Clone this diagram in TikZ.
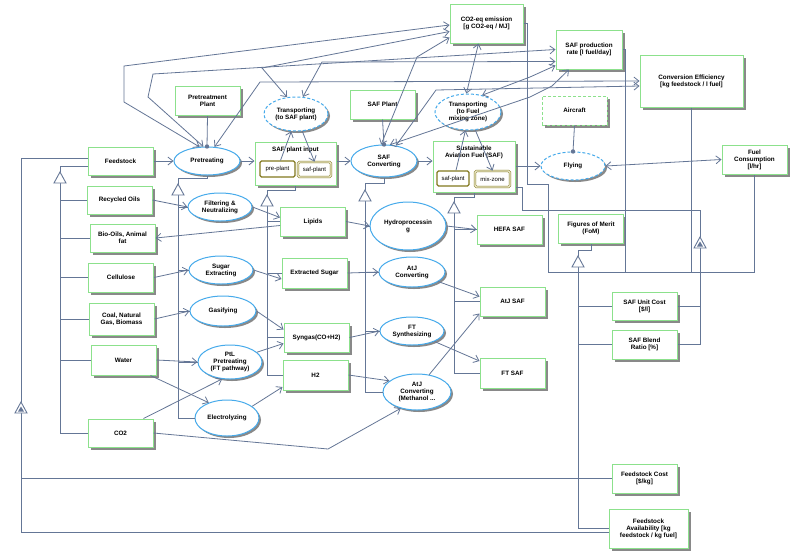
\documentclass[tikz,border=0pt]{standalone}
\usepackage{fontspec}
\setmainfont{Liberation Sans}
\usetikzlibrary{arrows.meta,shapes.geometric,shadows,calc}
\definecolor{boxg}{RGB}{140,225,140}
\definecolor{ellb}{RGB}{70,170,235}
\definecolor{lnc}{RGB}{100,118,150}
\definecolor{portc}{RGB}{130,120,30}
\definecolor{portf}{RGB}{240,238,210}
\definecolor{shad}{RGB}{125,125,125}
\begin{document}
\begin{tikzpicture}[x=1pt,y=-1pt,
  every node/.style={font=\fontsize{6.3}{7}\selectfont\bfseries, align=center, inner sep=0pt},
  blk/.style={draw=boxg, line width=1pt, fill=white, minimum width=65pt, minimum height=29pt,
    drop shadow={shadow xshift=2.5pt, shadow yshift=-2.5pt, fill=shad, opacity=0.9}},
  dblk/.style={blk, dash pattern=on 3pt off 2pt},
  act/.style={ellipse, draw=ellb, line width=1pt, fill=white,
    drop shadow={shadow xshift=2pt, shadow yshift=-2pt, fill=shad, opacity=0.9}},
  dact/.style={act, dash pattern=on 3pt off 2pt},
  port/.style={draw=portc, line width=1.2pt, fill=white, rounded corners=1.5pt,
    font=\fontsize{6}{7}\selectfont},
  dport/.style={port, line width=0.6pt, double=portf, double distance=1.2pt},
  conn/.style={draw=lnc, line width=0.8pt},
  arr/.style={conn, -{Straight Barb[length=5pt,width=8pt]}},
  barr/.style={conn, {Straight Barb[length=5pt,width=8pt]}-{Straight Barb[length=5pt,width=8pt]}},
  gentri/.pic={\draw[lnc, fill=white, line width=0.9pt] (0,0) -- (-6,11) -- (6,11) -- cycle;},
  gentrif/.pic={\draw[lnc, fill=white, line width=0.9pt] (0,0) -- (-6,11) -- (6,11) -- cycle;
     \fill[lnc] (0,4.5) -- (-3,9.5) -- (3,9.5) -- cycle;},
]
\useasboundingbox (0,0) rectangle (800,555);
\fill[white] (0,0) rectangle (800,555);

% ---------- blocks ----------
\node[blk] (pplant) at (207.5,101) {Pretreatment\\Plant};
\node[blk, minimum height=28pt] (feed) at (120.5,161) {Feedstock};
\node[blk, minimum height=28pt] (roil) at (119.5,200) {Recycled Oils};
\node[blk, minimum height=28pt] (bio) at (122.5,238) {Bio-Oils, Animal\\fat};
\node[blk] (cell) at (121,277.5) {Cellulose};
\node[blk, minimum height=32pt] (coal) at (121.5,319) {Coal, Natural\\Gas, Biomass};
\node[blk, minimum height=30pt] (water) at (123.5,360) {Water};
\node[blk, minimum height=28pt] (co2) at (120.5,433) {CO2};
\node[blk, minimum width=81pt, minimum height=43pt] (spi) at (295.5,163.5) {};
\node (spititle) at (295.5,150) {SAF plant input};
\node[blk] (lipids) at (313,221.5) {Lipids};
\node[blk, minimum height=30pt] (esugar) at (314.5,273) {Extracted Sugar};
\node[blk] (syngas) at (316.5,337.5) {Syngas(CO+H2)};
\node[blk, minimum height=30pt] (h2) at (315.5,375) {H2};
\node[blk] (safplant) at (382.5,104.5) {SAF Plant};
\node[blk, minimum width=82pt, minimum height=51pt] (saf) at (474,166.5) {};
\node (saftitle) at (474,152) {Sustainable\\Aviation Fuel (SAF)};
\node[blk] (hefa) at (509.5,229.5) {HEFA SAF};
\node[blk] (atjsaf) at (512.5,301.5) {AtJ SAF};
\node[blk, minimum height=30pt] (ftsaf) at (512.5,373) {FT SAF};
\node[blk, minimum width=73pt, minimum height=39pt] (co2eq) at (486.5,23.5) {CO2-eq emission\\{}[g CO2-eq / MJ]};
\node[blk, minimum width=66pt, minimum height=39pt] (safrate) at (589,49.5) {SAF production\\rate [l fuel/day]};
\node[blk, minimum width=103pt, minimum height=52pt] (conv) at (691.5,81) {Conversion Efficiency\\{}[kg feedstock / l fuel]};
\node[dblk] (aircraft) at (574.5,110.5) {Aircraft};
\node[blk] (fuelc) at (754.5,159.5) {Fuel\\Consumption\\{}[l/hr]};
\node[blk] (fom) at (591,228.5) {Figures of Merit\\(FoM)};
\node[blk, minimum height=28pt] (ucost) at (644.5,306) {SAF Unit Cost\\{}[\$/l]};
\node[blk] (blend) at (644.5,344.5) {SAF Blend\\Ratio [\%]};
\node[blk] (fcost) at (644.5,478.5) {Feedstock Cost\\{}[\$/kg]};
\node[blk, minimum width=79pt, minimum height=39pt] (favail) at (648.5,528.5) {Feedstock\\Availability [kg\\feedstock / kg fuel]};

% ---------- actions ----------
\node[act, minimum width=66pt, minimum height=28pt] (pretreat) at (207,161) {Pretreating};
\node[dact, minimum width=64pt, minimum height=34pt] (tsp) at (296,114) {Transporting\\(to SAF plant)};
\node[act, minimum width=66pt, minimum height=32pt] (safconv) at (384,161) {SAF\\Converting};
\node[dact, minimum width=66pt, minimum height=36pt] (tfm) at (468,112) {Transporting\\(to Fuel\\mixing zone)};
\node[dact, minimum width=64pt, minimum height=28pt] (flying) at (573,166) {Flying};
\node[act, minimum width=64pt, minimum height=28pt] (filt) at (220,207) {Filtering \&\\Neutralizing};
\node[act, minimum width=64pt, minimum height=28pt] (sugar) at (221,270) {Sugar\\Extracting};
\node[act, minimum width=66pt, minimum height=30pt] (gas) at (223,311) {Gasifying};
\node[act, minimum width=64pt, minimum height=34pt] (ptl) at (230,362) {PtL\\Pretreating\\(FT pathway)};
\node[act, minimum width=64pt, minimum height=36pt] (elec) at (227,418) {Electrolyzing};
\node[act, minimum width=76pt, minimum height=48pt] (hydro) at (408,226) {Hydroprocessin\\g};
\node[act, minimum width=66pt, minimum height=30pt] (atjc) at (412,272) {AtJ\\Converting};
\node[act, minimum width=64pt, minimum height=28pt] (fts) at (412,331) {FT\\Synthesizing};
\node[act, minimum width=68pt, minimum height=36pt] (meth) at (417,392) {AtJ\\Converting\\(Methanol ...};

% ---------- ports ----------
\node[port, minimum width=35pt, minimum height=16pt] (preplant) at (277.5,169) {pre-plant};
\node[dport, minimum width=33pt, minimum height=15pt] (safpl1) at (314.5,169.5) {saf-plant};
\node[port, minimum width=32pt, minimum height=15pt] (safpl2) at (453,178.5) {saf-plant};
\node[dport, minimum width=35pt, minimum height=16pt] (mixz) at (492.5,179) {mix-zone};

% ---------- composition ----------
\draw[conn] (pplant.south) -- (pretreat.north);
\fill[lnc] (pretreat.north) circle (2.2);
\draw[conn] (safplant.south) -- (safconv.north);
\fill[lnc] (safconv.north) circle (2.2);
\draw[conn] (aircraft.south) -- (flying.north);
\fill[lnc] (flying.north) circle (2.2);

% ---------- main flow ----------
\draw[arr] (feed) -- (pretreat);
\draw[arr] (pretreat.east) -- (pretreat.east -| spi.west);
\draw[arr] (spi.east |- safconv) -- (safconv.west);
\draw[arr] (safconv.east) -- (safconv.east -| saf.west);
\draw[arr] (saf.east |- flying) -- (flying.west);
\draw[barr] (flying.east) -- (fuelc.west);

% ---------- feedstock flows ----------
\draw[arr] (roil.east) -- (filt.west);
\draw[arr] ([yshift=-4pt]lipids.west) -- (bio.east);
\draw[arr] (filt.east) -- ([yshift=4pt]lipids.west);
\draw[arr] (cell.east) -- (sugar.west);
\draw[arr] (sugar.east) -- ([yshift=-6pt]esugar.west);
\draw[arr] (coal.east) -- (gas.west);
\draw[arr] (gas.east) -- ([yshift=8pt]syngas.west);
\draw[arr] (water.east) -- (ptl.west);
\draw[arr] ([xshift=-6pt]water.south east) -- (elec.140);
\draw[arr] ([xshift=-10pt]co2.north east) -- (ptl.245);
\draw[arr] (co2.east) -- (328,449) -- (meth.225);
\draw[arr] (ptl.20) -- ([yshift=-6pt]syngas.west);
\draw[arr] (elec.25) -- ([yshift=-12pt]h2.west);
\draw[arr] (lipids.east) -- (hydro.west);
\draw[arr] (esugar.east) -- (atjc.west);
\draw[arr] (syngas.east) -- (fts.west);
\draw[arr] (h2.east) -- (meth.158);
\draw[arr] (hydro.east) -- (hefa.west);
\draw[arr] (atjc.-20) -- ([yshift=5pt]atjsaf.west);
\draw[arr] (fts.-25) -- ([yshift=12pt]ftsaf.west);
\draw[arr] (meth.55) -- ([yshift=-12pt]atjsaf.west);

% ---------- ports flows ----------
\draw[arr] ([xshift=3pt]preplant.north) -- (tsp.255);
\draw[arr] (tsp.290) -- (safpl1.north);
\draw[arr] ([xshift=3pt]safpl2.north) -- (tfm.262);
\draw[arr] (tfm.292) -- (mixz.north);

% ---------- generalization trees ----------
\coordinate (g0) at (21,402);
\draw[conn] ([yshift=3pt]feed.west) -| (g0);
\draw[conn] ([yshift=-11pt]g0) |- ([yshift=-4pt]favail.west);
\draw[conn] (g0 |- fcost.west) -- (fcost.west);
\pic at (g0) {gentrif};

\coordinate (g1) at (60,172);
\draw[conn] (g1) |- ([yshift=-5pt]feed.west);
\draw[conn] ([yshift=-11pt]g1) |- (co2.west);
\foreach \n in {roil,bio,cell,coal,water} \draw[conn] (g1 |- \n.west) -- (\n.west);
\pic at (g1) {gentri};

\coordinate (g2) at (178,184);
\draw[conn] (g2) -- ++(0,-6) -| (pretreat.south);
\draw[conn] ([yshift=-11pt]g2) |- (elec.west);
\foreach \n in {filt,sugar,gas,ptl} \draw[conn] (g2 |- \n.west) -- (\n.west);
\pic at (g2) {gentri};

\coordinate (g3) at (267,195);
\draw[conn] (g3) -- ++(0,-5) -| (spi.south);
\draw[conn] ([yshift=-11pt]g3) |- (h2.west);
\foreach \n in {lipids,esugar,syngas} \draw[conn] (g3 |- \n.west) -- (\n.west);
\pic at (g3) {gentri};

\coordinate (g4) at (365,190);
\draw[conn] (g4) -- ++(0,-7) -| (safconv.south);
\draw[conn] ([yshift=-11pt]g4) |- (meth.west);
\foreach \n in {hydro,atjc,fts} \draw[conn] (g4 |- \n.west) -- (\n.west);
\pic at (g4) {gentri};

\coordinate (g5) at (454,202);
\draw[conn] (g5) -- ++(0,-5) -| (saf.south);
\draw[conn] ([yshift=-11pt]g5) |- (ftsaf.west);
\foreach \n in {hefa,atjsaf} \draw[conn] (g5 |- \n.west) -- (\n.west);
\pic at (g5) {gentri};

\coordinate (g6) at (578,256);
\draw[conn] (g6) -- ++(0,-6) -| (fom.south);
\draw[conn] ([yshift=-11pt]g6) |- (favail.west);
\foreach \n in {ucost,blend} \draw[conn] (g6 |- \n.west) -- (\n.west);
\pic at (g6) {gentri};

\coordinate (g7) at (700,237);
\coordinate (j7) at (522,210);
\coordinate (b7) at (700,272);
\draw[conn] (g7) |- (j7) |- ([yshift=5pt]saf.south east);
\draw[conn] ([yshift=-11pt]g7) |- (blend.east);
\draw[conn] (ucost.east) -- (ucost.east -| g7);
\draw[conn] (co2eq.east) -- ++(4,0) |- (548,184) |- (b7);
\draw[conn] (safrate.east) -- ++(3,0) |- (b7);
\draw[conn] (conv.south) |- (b7);
\draw[conn] (fuelc.south) |- (b7);
\pic at (g7) {gentrif};

% ---------- FoM links ----------
\draw[barr] (pretreat.118) -- (124,102) -- (124,66) -- ([yshift=-1.5pt]co2eq.west);
\draw[barr] (pretreat.104) -- (148,97) -- (153,74) -- (safrate.west);
\draw[barr] (pretreat.62) -- (260,82) -- (conv.west);
\draw[barr] (tsp.118) -- (262,68) -- ([yshift=-8pt]co2eq.west);
\draw[barr] (tsp.68) -- (322,62) -- ([yshift=-12pt]safrate.west);
\draw[barr] (safconv.100) -- (417,57) -- ([yshift=-14pt]co2eq.west);
\draw[barr] (safconv.70) -- (530,97) -- (552,86) -- ([xshift=-20pt]safrate.south);
\draw[barr] (safconv.52) -- (436,90) -- ([yshift=-5pt]conv.west);
\draw[barr] (tfm.95) -- ([xshift=-8pt]co2eq.south);
\draw[barr] (tfm.50) -- (530,77) -- ([yshift=-16pt]safrate.west);
\end{tikzpicture}
\end{document}
